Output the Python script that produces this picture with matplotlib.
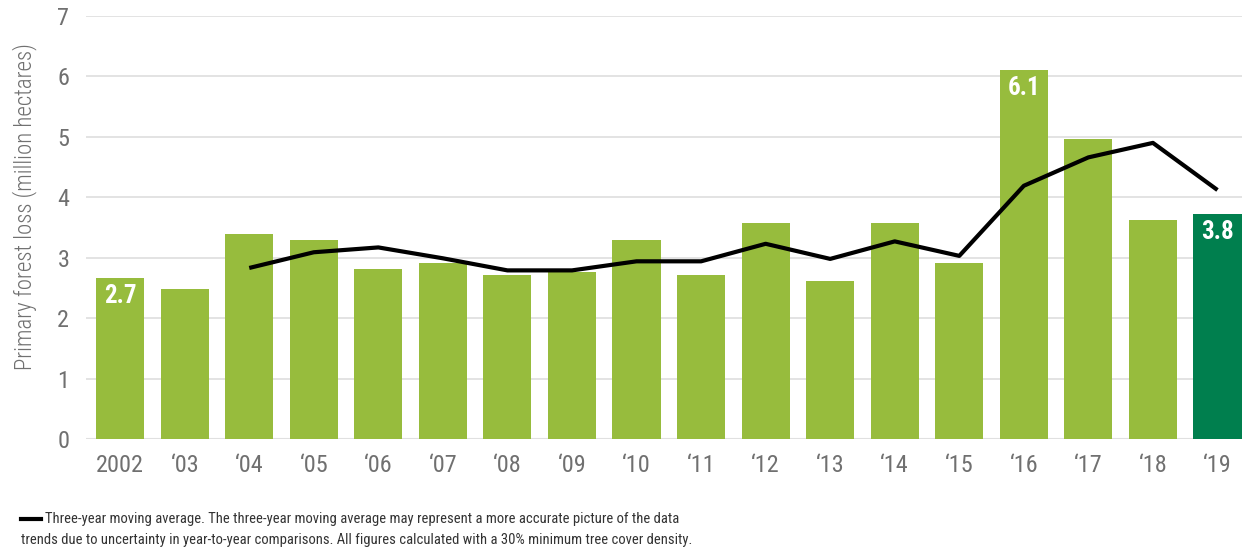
import matplotlib
matplotlib.use("Agg")
import matplotlib.pyplot as plt

plt.rcParams["font.family"] = ["Roboto Condensed", "Roboto", "DejaVu Sans"]

# Data
years = ["2002", "\u201803", "\u201804", "\u201805", "\u201806", "\u201807", "\u201808", "\u201809",
         "\u201810", "\u201811", "\u201812", "\u201813", "\u201814", "\u201815", "\u201816", "\u201817",
         "\u201818", "\u201819"]
loss = [2.67, 2.48, 3.39, 3.29, 2.81, 2.92, 2.72, 2.76, 3.29, 2.72, 3.58, 2.62, 3.58, 2.92,
        6.11, 4.97, 3.63, 3.73]
# three-year moving average starts at 2004
avg_years_idx = list(range(2, 18))
moving_avg = [2.83, 3.09, 3.17, 2.99, 2.79, 2.79, 2.94, 2.94, 3.23, 2.98, 3.27, 3.03,
              4.19, 4.66, 4.90, 4.12]
labelled = {0: "2.7", 14: "6.1", 17: "3.8"}

light_green = "#97bc3d"
dark_green = "#007f4e"
grey_text = "#707070"

fig = plt.figure(figsize=(12.42, 5.51), dpi=100)
ax = fig.add_axes([0.0692, 0.2033, 0.9308, 0.7677])

x = list(range(len(years)))
colors = [light_green] * (len(years) - 1) + [dark_green]
ax.bar(x, loss, width=0.745, color=colors, zorder=2)
ax.plot(avg_years_idx, moving_avg, color="black", lw=3, solid_capstyle="butt", zorder=3)

for i, txt in labelled.items():
    ax.text(x[i], loss[i] - 0.1, txt, ha="center", va="top", color="white",
            fontsize=18, fontweight="bold", zorder=4)

ax.set_xlim(-0.53, 17.38)
ax.set_ylim(0, 7)
ax.set_yticks(range(0, 8))
ax.set_xticks(x)
ax.set_xticklabels(years)
ax.grid(axis="y", color="#e0e0e0", lw=1.3, zorder=0)
ax.axhline(0, color="#e0e0e0", lw=1.5, zorder=1)
for s in ax.spines.values():
    s.set_visible(False)
ax.tick_params(axis="both", length=0, labelsize=17.5, colors=grey_text)
ax.tick_params(axis="x", pad=11)
ax.tick_params(axis="y", pad=12)
ax.set_ylabel("Primary forest loss (million hectares)", fontsize=16.5, color=grey_text,
              fontweight="light")
ax.yaxis.set_label_coords(-0.042, 0.55)

# footnote with line key
fig.add_artist(plt.Line2D([0.017, 0.033], [0.0575, 0.0575], color="black", lw=3))
fig.text(0.036, 0.0575, "Three-year moving average. The three-year moving average may represent a more accurate picture of the data",
         fontsize=10.5, color="#333333", va="center")
fig.text(0.017, 0.02, "trends due to uncertainty in year-to-year comparisons. All figures calculated with a 30% minimum tree cover density.",
         fontsize=10.5, color="#333333", va="center")

fig.savefig("out.png", dpi=100)
